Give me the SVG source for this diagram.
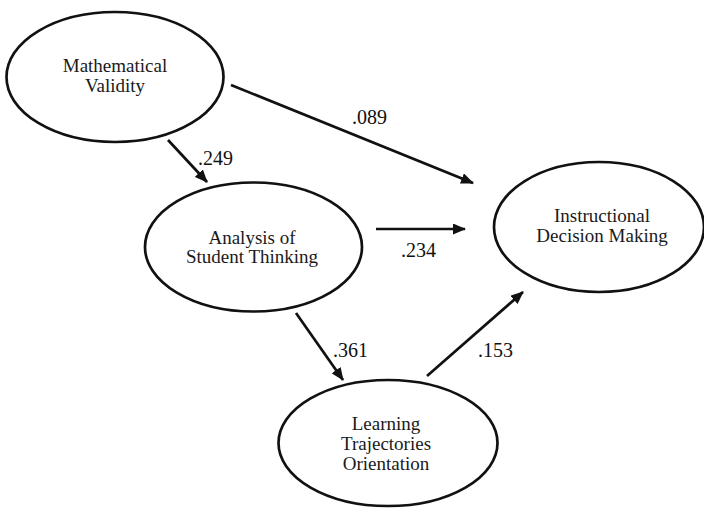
<svg xmlns="http://www.w3.org/2000/svg" width="704" height="508" viewBox="0 0 704 508">
  <style>
    .node ellipse { fill: #ffffff; stroke: #111111; stroke-width: 2.7; }
    .lbl { font-family: "Liberation Serif", "Times New Roman", serif; font-size: 19px; fill: #1a1a1a; text-anchor: middle; }
    .conn line { stroke: #111111; stroke-width: 2.7; fill: none; marker-end: url(#arrow); }
    .num { font-family: "Liberation Serif", "Times New Roman", serif; font-size: 20px; fill: #111111; }
  </style>
  <defs>
    <marker id="arrow" viewBox="0 0 13 11" refX="12" refY="5.5" markerWidth="13" markerHeight="11" markerUnits="userSpaceOnUse" orient="auto">
      <path d="M0,0 L13,5.5 L0,11 Z" fill="#111111"/>
    </marker>
  </defs>
  <rect width="704" height="508" fill="#ffffff"/>

  <g id="connectors" class="conn">
    <line x1="231" y1="85" x2="473" y2="183"/>
    <line x1="168" y1="140" x2="207" y2="182"/>
    <line x1="376" y1="229" x2="465" y2="229"/>
    <line x1="296" y1="313" x2="343" y2="380"/>
    <line x1="427" y1="376" x2="523" y2="292"/>
  </g>

  <g id="edge-labels">
    <text class="num" x="352" y="124">.089</text>
    <text class="num" x="198" y="165">.249</text>
    <text class="num" x="401" y="257">.234</text>
    <text class="num" x="333" y="357">.361</text>
    <text class="num" x="478" y="357">.153</text>
  </g>

  <g id="mathematical-validity" class="node">
    <ellipse cx="115" cy="77" rx="108.5" ry="65"/>
    <text class="lbl" x="115" y="72">Mathematical</text>
    <text class="lbl" x="115" y="92">Validity</text>
  </g>

  <g id="analysis-student-thinking" class="node">
    <ellipse cx="253.5" cy="247" rx="108.5" ry="64.5"/>
    <text class="lbl" x="252" y="244">Analysis of</text>
    <text class="lbl" x="252" y="263">Student Thinking</text>
  </g>

  <g id="instructional-decision-making" class="node">
    <ellipse cx="599" cy="227" rx="105" ry="65"/>
    <text class="lbl" x="602" y="222">Instructional</text>
    <text class="lbl" x="602" y="242">Decision Making</text>
  </g>

  <g id="learning-trajectories-orientation" class="node">
    <ellipse cx="388" cy="443" rx="109.5" ry="63"/>
    <text class="lbl" x="386" y="430">Learning</text>
    <text class="lbl" x="386" y="450">Trajectories</text>
    <text class="lbl" x="386" y="470">Orientation</text>
  </g>
</svg>
